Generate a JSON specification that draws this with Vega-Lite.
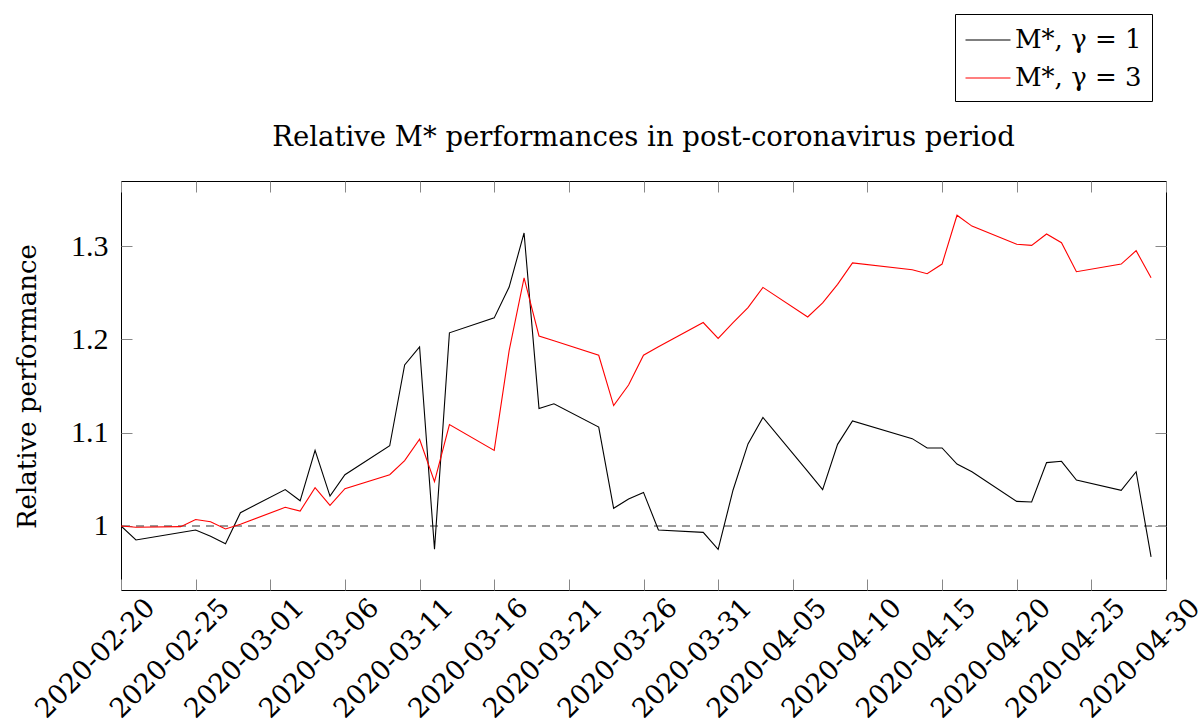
{
  "$schema": "https://vega.github.io/schema/vega-lite/v6.json",
  "width": 1045,
  "height": 409,
  "autosize": {"type": "none"},
  "padding": {"left": 121, "top": 181, "right": 35, "bottom": 137},
  "background": "white",
  "config": {
    "font": "DejaVu Serif",
    "view": {"stroke": "black", "strokeWidth": 1},
    "axis": {
      "domain": false,
      "grid": false,
      "tickColor": "#888888",
      "tickSize": -11,
      "tickWidth": 1,
      "labelColor": "black",
      "labelFontSize": 27,
      "labelFont": "DejaVu Serif",
      "titleFont": "DejaVu Serif",
      "titleFontWeight": "normal",
      "titleColor": "black"
    },
    "legend": {
      "labelFont": "DejaVu Serif"
    }
  },
  "title": {
    "text": "Relative M* performances in post-coronavirus period",
    "fontSize": 27.5,
    "fontWeight": "normal",
    "font": "DejaVu Serif",
    "color": "black",
    "anchor": "middle",
    "frame": "group",
    "baseline": "alphabetic",
    "offset": -160
  },
  "datasets": {
    "perf": [
      {"date": "2020-02-20", "series": "M*, γ = 1", "value": 1.000},
      {"date": "2020-02-21", "series": "M*, γ = 1", "value": 0.985},
      {"date": "2020-02-24", "series": "M*, γ = 1", "value": 0.993},
      {"date": "2020-02-25", "series": "M*, γ = 1", "value": 0.9957},
      {"date": "2020-02-26", "series": "M*, γ = 1", "value": 0.989},
      {"date": "2020-02-27", "series": "M*, γ = 1", "value": 0.981},
      {"date": "2020-02-28", "series": "M*, γ = 1", "value": 1.0143},
      {"date": "2020-03-02", "series": "M*, γ = 1", "value": 1.039},
      {"date": "2020-03-03", "series": "M*, γ = 1", "value": 1.027},
      {"date": "2020-03-04", "series": "M*, γ = 1", "value": 1.081},
      {"date": "2020-03-05", "series": "M*, γ = 1", "value": 1.032},
      {"date": "2020-03-06", "series": "M*, γ = 1", "value": 1.055},
      {"date": "2020-03-09", "series": "M*, γ = 1", "value": 1.086},
      {"date": "2020-03-10", "series": "M*, γ = 1", "value": 1.1725},
      {"date": "2020-03-11", "series": "M*, γ = 1", "value": 1.192},
      {"date": "2020-03-12", "series": "M*, γ = 1", "value": 0.975},
      {"date": "2020-03-13", "series": "M*, γ = 1", "value": 1.207},
      {"date": "2020-03-16", "series": "M*, γ = 1", "value": 1.223},
      {"date": "2020-03-17", "series": "M*, γ = 1", "value": 1.256},
      {"date": "2020-03-18", "series": "M*, γ = 1", "value": 1.314},
      {"date": "2020-03-19", "series": "M*, γ = 1", "value": 1.126},
      {"date": "2020-03-20", "series": "M*, γ = 1", "value": 1.131},
      {"date": "2020-03-23", "series": "M*, γ = 1", "value": 1.106},
      {"date": "2020-03-24", "series": "M*, γ = 1", "value": 1.019},
      {"date": "2020-03-25", "series": "M*, γ = 1", "value": 1.029},
      {"date": "2020-03-26", "series": "M*, γ = 1", "value": 1.036},
      {"date": "2020-03-27", "series": "M*, γ = 1", "value": 0.9957},
      {"date": "2020-03-30", "series": "M*, γ = 1", "value": 0.9932},
      {"date": "2020-03-31", "series": "M*, γ = 1", "value": 0.975},
      {"date": "2020-04-01", "series": "M*, γ = 1", "value": 1.0386},
      {"date": "2020-04-02", "series": "M*, γ = 1", "value": 1.088},
      {"date": "2020-04-03", "series": "M*, γ = 1", "value": 1.1164},
      {"date": "2020-04-06", "series": "M*, γ = 1", "value": 1.0586},
      {"date": "2020-04-07", "series": "M*, γ = 1", "value": 1.039},
      {"date": "2020-04-08", "series": "M*, γ = 1", "value": 1.0875},
      {"date": "2020-04-09", "series": "M*, γ = 1", "value": 1.1125},
      {"date": "2020-04-13", "series": "M*, γ = 1", "value": 1.0936},
      {"date": "2020-04-14", "series": "M*, γ = 1", "value": 1.0836},
      {"date": "2020-04-15", "series": "M*, γ = 1", "value": 1.0836},
      {"date": "2020-04-16", "series": "M*, γ = 1", "value": 1.0664},
      {"date": "2020-04-17", "series": "M*, γ = 1", "value": 1.0582},
      {"date": "2020-04-20", "series": "M*, γ = 1", "value": 1.0264},
      {"date": "2020-04-21", "series": "M*, γ = 1", "value": 1.0257},
      {"date": "2020-04-22", "series": "M*, γ = 1", "value": 1.0679},
      {"date": "2020-04-23", "series": "M*, γ = 1", "value": 1.0693},
      {"date": "2020-04-24", "series": "M*, γ = 1", "value": 1.0493},
      {"date": "2020-04-27", "series": "M*, γ = 1", "value": 1.0382},
      {"date": "2020-04-28", "series": "M*, γ = 1", "value": 1.0582},
      {"date": "2020-04-29", "series": "M*, γ = 1", "value": 0.967},
      {"date": "2020-02-20", "series": "M*, γ = 3", "value": 1.000},
      {"date": "2020-02-21", "series": "M*, γ = 3", "value": 0.9986},
      {"date": "2020-02-24", "series": "M*, γ = 3", "value": 0.9993},
      {"date": "2020-02-25", "series": "M*, γ = 3", "value": 1.007},
      {"date": "2020-02-26", "series": "M*, γ = 3", "value": 1.0046},
      {"date": "2020-02-27", "series": "M*, γ = 3", "value": 0.9968},
      {"date": "2020-02-28", "series": "M*, γ = 3", "value": 1.0018},
      {"date": "2020-03-02", "series": "M*, γ = 3", "value": 1.020},
      {"date": "2020-03-03", "series": "M*, γ = 3", "value": 1.016},
      {"date": "2020-03-04", "series": "M*, γ = 3", "value": 1.041},
      {"date": "2020-03-05", "series": "M*, γ = 3", "value": 1.022},
      {"date": "2020-03-06", "series": "M*, γ = 3", "value": 1.040},
      {"date": "2020-03-09", "series": "M*, γ = 3", "value": 1.055},
      {"date": "2020-03-10", "series": "M*, γ = 3", "value": 1.070},
      {"date": "2020-03-11", "series": "M*, γ = 3", "value": 1.093},
      {"date": "2020-03-12", "series": "M*, γ = 3", "value": 1.0475},
      {"date": "2020-03-13", "series": "M*, γ = 3", "value": 1.1086},
      {"date": "2020-03-16", "series": "M*, γ = 3", "value": 1.081},
      {"date": "2020-03-17", "series": "M*, γ = 3", "value": 1.188},
      {"date": "2020-03-18", "series": "M*, γ = 3", "value": 1.266},
      {"date": "2020-03-19", "series": "M*, γ = 3", "value": 1.2036},
      {"date": "2020-03-20", "series": "M*, γ = 3", "value": 1.1986},
      {"date": "2020-03-23", "series": "M*, γ = 3", "value": 1.183},
      {"date": "2020-03-24", "series": "M*, γ = 3", "value": 1.129},
      {"date": "2020-03-25", "series": "M*, γ = 3", "value": 1.151},
      {"date": "2020-03-26", "series": "M*, γ = 3", "value": 1.183},
      {"date": "2020-03-27", "series": "M*, γ = 3", "value": 1.192},
      {"date": "2020-03-30", "series": "M*, γ = 3", "value": 1.218},
      {"date": "2020-03-31", "series": "M*, γ = 3", "value": 1.201},
      {"date": "2020-04-01", "series": "M*, γ = 3", "value": 1.218},
      {"date": "2020-04-02", "series": "M*, γ = 3", "value": 1.234},
      {"date": "2020-04-03", "series": "M*, γ = 3", "value": 1.2557},
      {"date": "2020-04-06", "series": "M*, γ = 3", "value": 1.224},
      {"date": "2020-04-07", "series": "M*, γ = 3", "value": 1.239},
      {"date": "2020-04-08", "series": "M*, γ = 3", "value": 1.259},
      {"date": "2020-04-09", "series": "M*, γ = 3", "value": 1.282},
      {"date": "2020-04-13", "series": "M*, γ = 3", "value": 1.2746},
      {"date": "2020-04-14", "series": "M*, γ = 3", "value": 1.2704},
      {"date": "2020-04-15", "series": "M*, γ = 3", "value": 1.2807},
      {"date": "2020-04-16", "series": "M*, γ = 3", "value": 1.333},
      {"date": "2020-04-17", "series": "M*, γ = 3", "value": 1.3214},
      {"date": "2020-04-20", "series": "M*, γ = 3", "value": 1.302},
      {"date": "2020-04-21", "series": "M*, γ = 3", "value": 1.3007},
      {"date": "2020-04-22", "series": "M*, γ = 3", "value": 1.3129},
      {"date": "2020-04-23", "series": "M*, γ = 3", "value": 1.3036},
      {"date": "2020-04-24", "series": "M*, γ = 3", "value": 1.2725},
      {"date": "2020-04-27", "series": "M*, γ = 3", "value": 1.2807},
      {"date": "2020-04-28", "series": "M*, γ = 3", "value": 1.295},
      {"date": "2020-04-29", "series": "M*, γ = 3", "value": 1.266}
    ]
  },
  "data": {"name": "perf"},
  "layer": [
    {
      "mark": {"type": "rule", "color": "#999999", "strokeWidth": 1, "strokeDash": [8, 6]},
      "encoding": {
        "y": {"datum": 1, "type": "quantitative", "axis": null}
      }
    },
    {
      "mark": {"type": "line", "strokeWidth": 1.1, "clip": true},
      "encoding": {
        "x": {
          "field": "date",
          "type": "temporal",
          "scale": {
            "type": "utc",
            "domain": [
              {"year": 2020, "month": 2, "date": 20, "utc": true},
              {"year": 2020, "month": 4, "date": 30, "utc": true}
            ]
          },
          "axis": {
            "title": null,
            "orient": "bottom",
            "format": "%Y-%m-%d",
            "values": [
              {"year": 2020, "month": 2, "date": 20, "utc": true},
              {"year": 2020, "month": 2, "date": 25, "utc": true},
              {"year": 2020, "month": 3, "date": 1, "utc": true},
              {"year": 2020, "month": 3, "date": 6, "utc": true},
              {"year": 2020, "month": 3, "date": 11, "utc": true},
              {"year": 2020, "month": 3, "date": 16, "utc": true},
              {"year": 2020, "month": 3, "date": 21, "utc": true},
              {"year": 2020, "month": 3, "date": 26, "utc": true},
              {"year": 2020, "month": 3, "date": 31, "utc": true},
              {"year": 2020, "month": 4, "date": 5, "utc": true},
              {"year": 2020, "month": 4, "date": 10, "utc": true},
              {"year": 2020, "month": 4, "date": 15, "utc": true},
              {"year": 2020, "month": 4, "date": 20, "utc": true},
              {"year": 2020, "month": 4, "date": 25, "utc": true},
              {"year": 2020, "month": 4, "date": 30, "utc": true}
            ],
            "labelAngle": -45,
            "labelAlign": "right",
            "labelBaseline": "top",
            "labelOffset": 20,
            "labelPadding": 15,
            "labelOverlap": false,
            "labelFlush": false,
            "labelBound": false
          }
        },
        "y": {
          "field": "value",
          "type": "quantitative",
          "scale": {"domain": [0.9314, 1.3697], "zero": false, "nice": false},
          "axis": {
            "orient": "left",
            "values": [1, 1.1, 1.2, 1.3],
            "format": "~g",
            "labelFont": "Liberation Serif",
            "labelFontSize": 30,
            "labelPadding": 24,
            "title": "Relative performance",
            "titleFontSize": 26,
            "titleX": -94,
            "titleY": 205,
            "titleAngle": -90,
            "titleAlign": "center",
            "titleBaseline": "middle"
          }
        },
        "color": {
          "field": "series",
          "type": "nominal",
          "scale": {"domain": ["M*, γ = 1", "M*, γ = 3"], "range": ["#000000", "#ff0000"]},
          "legend": {
            "title": null,
            "orient": "none",
            "legendX": 834,
            "legendY": -167,
            "strokeColor": "black",
            "fillColor": "white",
            "padding": 10,
            "labelFontSize": 26,
            "labelColor": "black",
            "symbolType": "M-1.5,0H1.5",
            "symbolSize": 900,
            "symbolStrokeWidth": 1.1,
            "symbolOffset": 7,
            "labelOffset": 11,
            "rowPadding": 9
          }
        }
      }
    },
    {
      "mark": {"type": "line", "strokeOpacity": 0},
      "encoding": {
        "x": {
          "field": "date",
          "type": "temporal",
          "axis": {
            "orient": "top",
            "labels": false,
            "title": null,
            "values": [
              {"year": 2020, "month": 2, "date": 20, "utc": true},
              {"year": 2020, "month": 2, "date": 25, "utc": true},
              {"year": 2020, "month": 3, "date": 1, "utc": true},
              {"year": 2020, "month": 3, "date": 6, "utc": true},
              {"year": 2020, "month": 3, "date": 11, "utc": true},
              {"year": 2020, "month": 3, "date": 16, "utc": true},
              {"year": 2020, "month": 3, "date": 21, "utc": true},
              {"year": 2020, "month": 3, "date": 26, "utc": true},
              {"year": 2020, "month": 3, "date": 31, "utc": true},
              {"year": 2020, "month": 4, "date": 5, "utc": true},
              {"year": 2020, "month": 4, "date": 10, "utc": true},
              {"year": 2020, "month": 4, "date": 15, "utc": true},
              {"year": 2020, "month": 4, "date": 20, "utc": true},
              {"year": 2020, "month": 4, "date": 25, "utc": true},
              {"year": 2020, "month": 4, "date": 30, "utc": true}
            ]
          }
        },
        "y": {
          "field": "value",
          "type": "quantitative",
          "axis": {"orient": "right", "labels": false, "title": null, "values": [1, 1.1, 1.2, 1.3]}
        },
        "detail": {"field": "series"}
      }
    }
  ],
  "resolve": {"axis": {"x": "independent", "y": "independent"}}
}
